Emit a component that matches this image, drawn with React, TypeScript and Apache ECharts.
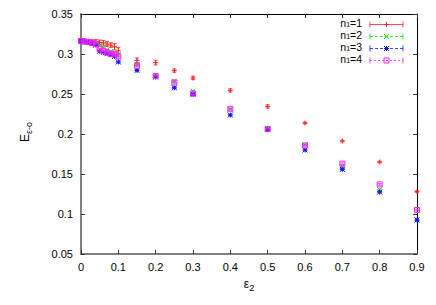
import React, { useEffect, useRef } from "react";
import * as echarts from "echarts";

const eps2 = [0, 0.01, 0.02, 0.03, 0.04, 0.05, 0.06, 0.07, 0.08, 0.09, 0.1, 0.15, 0.2, 0.25, 0.3, 0.4, 0.5, 0.6, 0.7, 0.8, 0.9];

const n1Values = [0.317, 0.3165, 0.316, 0.3155, 0.315, 0.3145, 0.314, 0.3125, 0.311, 0.309, 0.304, 0.292, 0.2892, 0.2792, 0.27, 0.2545, 0.2345, 0.2137, 0.1912, 0.165, 0.128];
const n1Errors = [0.002, 0.002, 0.002, 0.002, 0.003, 0.003, 0.003, 0.003, 0.003, 0.004, 0.004, 0.003, 0.003, 0.002, 0.002, 0.002, 0.002, 0.001, 0.001, 0.001, 0.001];

const n2Values = [0.316, 0.3155, 0.315, 0.314, 0.313, 0.311, 0.308, 0.305, 0.303, 0.301, 0.299, 0.287, 0.2735, 0.266, 0.2535, 0.231, 0.2065, 0.1865, 0.1595, 0.1305, 0.093];
const n2Errors = [0.001, 0.001, 0.001, 0.001, 0.001, 0.001, 0.001, 0.001, 0.001, 0.002, 0.002, 0.001, 0.001, 0.001, 0.001, 0.001, 0.001, 0.001, 0.001, 0.001, 0.001];

const n3Values = [0.316, 0.315, 0.3145, 0.313, 0.311, 0.3035, 0.302, 0.3005, 0.299, 0.297, 0.29, 0.2795, 0.2712, 0.2578, 0.2497, 0.2237, 0.2055, 0.18, 0.1558, 0.1275, 0.0925];
const n3Errors = [0.001, 0.001, 0.001, 0.001, 0.001, 0.001, 0.001, 0.001, 0.001, 0.001, 0.001, 0.001, 0.001, 0.001, 0.001, 0.001, 0.001, 0.001, 0.001, 0.001, 0.001];

const n4Values = [0.3162, 0.3156, 0.315, 0.3138, 0.3125, 0.306, 0.304, 0.302, 0.3005, 0.2995, 0.297, 0.2855, 0.2725, 0.2645, 0.2505, 0.2315, 0.2062, 0.1858, 0.1629, 0.137, 0.105];
const n4Errors = [0.001, 0.001, 0.001, 0.001, 0.001, 0.001, 0.001, 0.001, 0.001, 0.002, 0.002, 0.001, 0.001, 0.001, 0.001, 0.001, 0.001, 0.001, 0.001, 0.001, 0.001];

const seriesNames = ["1", "2", "3", "4"];
const seriesColors = ["#ff2020", "#10dd10", "#1010ff", "#ff20ff"];
const seriesMarkers = ["plus", "cross", "star", "square"];
const seriesDashes: (number[] | null)[] = [null, [3, 2], [3, 2], [2, 2]];

const xTicks = { min: 0, max: 0.9, interval: 0.1 };
const yTicks = { min: 0.05, max: 0.35, interval: 0.05 };

const FONT = "Liberation Sans, Arial, Helvetica, sans-serif";

function seg(x1: number, y1: number, x2: number, y2: number, color: string, dash?: number[] | null, opacity = 1) {
  return {
    type: "line",
    shape: { x1, y1, x2, y2 },
    style: { stroke: color, lineWidth: 1, lineDash: dash || null, fill: null, opacity },
    silent: true,
  };
}

function marker(kind: string, cx: number, cy: number, color: string): any[] {
  const r = 2.5;
  if (kind === "plus") {
    return [seg(cx - r, cy, cx + r, cy, color), seg(cx, cy - r, cx, cy + r, color)];
  }
  if (kind === "cross") {
    return [seg(cx - r, cy - r, cx + r, cy + r, color), seg(cx - r, cy + r, cx + r, cy - r, color)];
  }
  if (kind === "star") {
    return [
      seg(cx - r, cy, cx + r, cy, color),
      seg(cx, cy - r, cx, cy + r, color),
      seg(cx - r, cy - r, cx + r, cy + r, color),
      seg(cx - r, cy + r, cx + r, cy - r, color),
    ];
  }
  return [
    {
      type: "rect",
      shape: { x: cx - r, y: cy - r, width: 2 * r, height: 2 * r },
      style: { stroke: color, fill: null, lineWidth: 1 },
      silent: true,
    },
  ];
}

function buildSeries(values: number[], errors: number[], idx: number) {
  const color = seriesColors[idx];
  const kind = seriesMarkers[idx];
  return {
    type: "custom",
    name: "n1=" + seriesNames[idx],
    coordinateSystem: "cartesian2d",
    xAxisIndex: 0,
    yAxisIndex: 0,
    clip: false,
    data: eps2.map((x, i) => [x, values[i], errors[i]]),
    renderItem: (params: any, api: any) => {
      const x = api.value(0);
      const y = api.value(1);
      const e = api.value(2);
      const p = api.coord([x, y]);
      const hi = api.coord([x, y + e]);
      const lo = api.coord([x, y - e]);
      const cap = 2;
      const children: any[] = [
        seg(p[0], hi[1], p[0], lo[1], color, null, 0.8),
        seg(p[0] - cap, hi[1], p[0] + cap, hi[1], color, null, 0.8),
        seg(p[0] - cap, lo[1], p[0] + cap, lo[1], color, null, 0.8),
        ...marker(kind, p[0], p[1], color),
      ];
      return { type: "group", children };
    },
  };
}

function buildLegend() {
  const rows = [24.5, 36.5, 48.5, 60.5];
  const children: any[] = [];
  rows.forEach((ry, i) => {
    const color = seriesColors[i];
    children.push({
      type: "text",
      x: 362,
      y: ry - 2,
      style: {
        text: "{a|n}{s|1}{a|=" + seriesNames[i] + "}",
        align: "right",
        verticalAlign: "middle",
        rich: {
          a: { fontSize: 10.5, fontFamily: FONT, fill: "#000", lineHeight: 11, verticalAlign: "top" },
          s: { fontSize: 7, fontFamily: FONT, fill: "#000", lineHeight: 7, verticalAlign: "bottom" },
        },
      },
    });
    children.push(seg(370, ry, 403, ry, color, seriesDashes[i], 0.8));
    children.push(seg(370, ry - 3, 370, ry + 3, color, null, 0.8));
    children.push(seg(403, ry - 3, 403, ry + 3, color, null, 0.8));
    marker(seriesMarkers[i], 386.5, ry, color).forEach((m) => children.push(m));
  });
  return { type: "group", children };
}

const fmt = (v: number) => String(Math.round(v * 100) / 100);

export default function App() {
  const ref = useRef<HTMLDivElement>(null);
  useEffect(() => {
    document.body.style.margin = "0";
    if (!ref.current) return;
    const chart = echarts.init(ref.current, null, { renderer: "svg" });
    const axisCommon = {
      type: "value",
      splitLine: { show: false },
    };
    chart.setOption({
      animation: false,
      backgroundColor: "#fff",
      textStyle: { fontFamily: FONT },
      grid: { left: 81, right: 19, top: 14, bottom: 51, containLabel: false },
      xAxis: [
        {
          ...axisCommon,
          position: "bottom",
          min: xTicks.min,
          max: xTicks.max,
          interval: xTicks.interval,
          axisLine: { show: true, onZero: false, lineStyle: { color: "#808080", width: 2 } },
          axisTick: { show: true, inside: true, length: 4, lineStyle: { color: "#333", width: 1 } },
          axisLabel: { show: true, color: "#000", fontSize: 11, margin: 7, fontFamily: FONT, formatter: fmt },
        },
        {
          ...axisCommon,
          position: "top",
          min: xTicks.min,
          max: xTicks.max,
          interval: xTicks.interval,
          axisLine: { show: true, onZero: false, lineStyle: { color: "#000", width: 1 } },
          axisTick: { show: true, inside: true, length: 4, lineStyle: { color: "#333", width: 1 } },
          axisLabel: { show: false },
        },
      ],
      yAxis: [
        {
          ...axisCommon,
          position: "left",
          min: yTicks.min,
          max: yTicks.max,
          interval: yTicks.interval,
          axisLine: { show: true, onZero: false, lineStyle: { color: "#808080", width: 2 } },
          axisTick: { show: true, inside: true, length: 4, lineStyle: { color: "#333", width: 1 } },
          axisLabel: { show: true, color: "#000", fontSize: 11, margin: 8, fontFamily: FONT, formatter: fmt },
        },
        {
          ...axisCommon,
          position: "right",
          min: yTicks.min,
          max: yTicks.max,
          interval: yTicks.interval,
          axisLine: { show: true, onZero: false, lineStyle: { color: "#000", width: 1 } },
          axisTick: { show: true, inside: true, length: 4, lineStyle: { color: "#333", width: 1 } },
          axisLabel: { show: false },
        },
      ],
      series: [
        buildSeries(n1Values, n1Errors, 0),
        buildSeries(n2Values, n2Errors, 1),
        buildSeries(n3Values, n3Errors, 2),
        buildSeries(n4Values, n4Errors, 3),
      ],
      graphic: [
        buildLegend(),
        {
          type: "text",
          x: 26,
          y: 132,
          rotation: Math.PI / 2,
          style: {
            text: "{a|E}{s|ε-o}",
            align: "center",
            verticalAlign: "middle",
            rich: {
              a: { fontSize: 12, fontFamily: FONT, fill: "#000", lineHeight: 14, verticalAlign: "top" },
              s: { fontSize: 9, fontFamily: FONT, fill: "#000", lineHeight: 10, verticalAlign: "bottom" },
            },
          },
        },
        {
          type: "text",
          x: 249,
          y: 285,
          style: {
            text: "{a|ε}{s|2}",
            align: "center",
            verticalAlign: "middle",
            rich: {
              a: { fontSize: 12, fontFamily: FONT, fill: "#000", lineHeight: 14, verticalAlign: "top" },
              s: { fontSize: 9, fontFamily: FONT, fill: "#000", lineHeight: 10, verticalAlign: "bottom" },
            },
          },
        },
      ],
    });
    return () => chart.dispose();
  }, []);
  return <div ref={ref} style={{ width: 436, height: 305 }} />;
}
